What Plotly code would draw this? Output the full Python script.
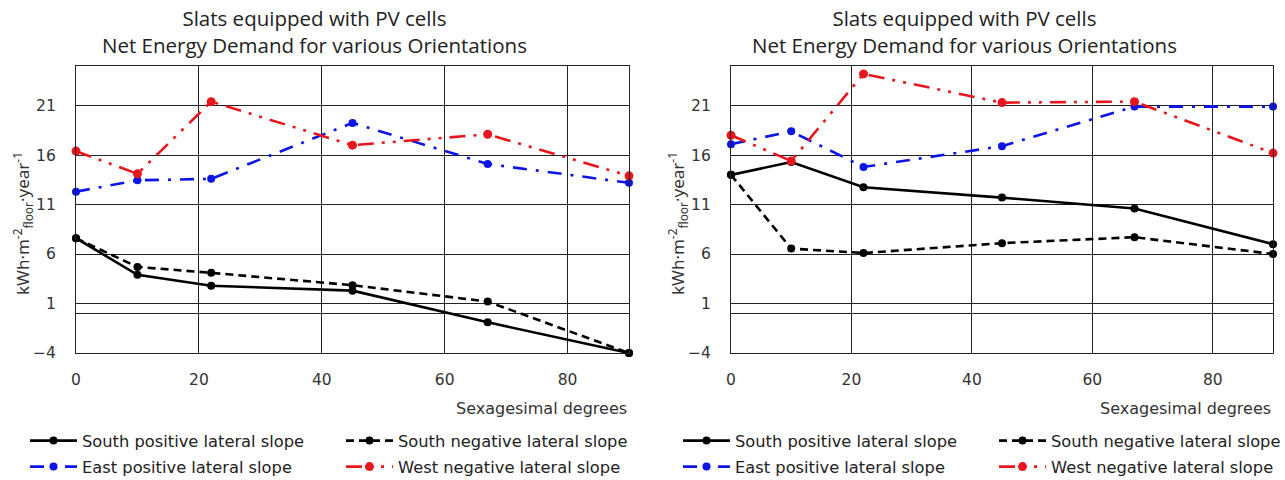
import plotly.graph_objects as go

# ---------------- data ----------------
angles = [0, 10, 22, 45, 67, 90]

# left chart
left_south_pos = [7.6, 3.9, 2.8, 2.3, -0.9, -4.0]
left_south_neg = [7.6, 4.7, 4.1, 2.85, 1.2, -4.0]
left_east_pos = [12.3, 13.45, 13.6, 19.25, 15.1, 13.2]
left_west_neg = [16.4, 14.1, 21.4, 17.0, 18.1, 13.9]

# right chart
right_south_pos = [14.0, 15.3, 12.75, 11.7, 10.6, 7.0]
right_south_neg = [14.0, 6.55, 6.1, 7.1, 7.7, 6.0]
right_east_pos = [17.1, 18.4, 14.8, 16.9, 20.9, 20.9]
right_west_neg = [18.0, 15.4, 24.2, 21.3, 21.4, 16.2]

series_names = ["South positive lateral slope", "South negative lateral slope",
                "East positive lateral slope", "West negative lateral slope"]
x_ticks = [0, 20, 40, 60, 80]
y_ticks = [-4, 1, 6, 11, 16, 21]
title_lines = ["Slats equipped with PV cells", "Net Energy Demand for various Orientations"]
x_label = "Sexagesimal degrees"
y_label = "kWh·m<sup>-2</sup><sub>floor</sub>·year<sup>-1</sup>"

# ---------------- styles ----------------
BLUE = "#0c14e6"
RED = "#e8161c"
styles = [
    dict(color="black", width=2.6, dash="solid"),
    dict(color="black", width=2.6, dash="8px,5px"),
    dict(color=BLUE, width=2.6, dash="14px,9px,3px,9px"),
    dict(color=RED, width=2.6, dash="16px,8px,3px,8px,3px,8px"),
]
marker_sizes = [8, 8, 8, 9]
FONT = "DejaVu Sans"

W, H = 1285, 480
left_px = (76, 629)
right_px = (731, 1273)
top_px, bot_px = 66, 353

fig = go.Figure()

charts = [
    (left_px, [left_south_pos, left_south_neg, left_east_pos, left_west_neg], "x", "y", ("legend", "legend2")),
    (right_px, [right_south_pos, right_south_neg, right_east_pos, right_west_neg], "x2", "y2", ("legend3", "legend4")),
]

for (px, data, xa, ya, legs) in charts:
    for i, (name, vals) in enumerate(zip(series_names, data)):
        fig.add_trace(go.Scatter(
            x=angles, y=vals, name=name, mode="lines+markers",
            line=styles[i], marker=dict(size=marker_sizes[i], color=styles[i]["color"]),
            xaxis=xa, yaxis=ya, cliponaxis=False,
            legend=legs[0] if i < 2 else legs[1],
        ))

axis_common_x = dict(range=[0, 90], tickvals=x_ticks, showgrid=True, gridcolor="#222", gridwidth=1,
                     showline=True, mirror=True, linecolor="#222", linewidth=1.3, zeroline=False,
                     ticks="", ticklabelstandoff=12, tickfont=dict(family=FONT, size=15.5, color="#333"),
                     fixedrange=True)
axis_common_y = dict(range=[-4, 25], tickvals=y_ticks, showgrid=True, gridcolor="#222", gridwidth=1,
                     showline=True, mirror=True, linecolor="#222", linewidth=1.3,
                     zeroline=True, zerolinecolor="#222", zerolinewidth=1,
                     ticks="", ticklabelstandoff=16, tickfont=dict(family=FONT, size=15.5, color="#333"),
                     fixedrange=True)

ydom = [1 - bot_px / H, 1 - top_px / H]
fig.update_layout(
    xaxis=dict(domain=[left_px[0] / W, left_px[1] / W], anchor="y", **axis_common_x),
    yaxis=dict(domain=ydom, anchor="x", **axis_common_y),
    xaxis2=dict(domain=[right_px[0] / W, right_px[1] / W], anchor="y2", **axis_common_x),
    yaxis2=dict(domain=ydom, anchor="x2", **axis_common_y),
)

leg_common = dict(orientation="h", entrywidth=254, entrywidthmode="pixels", xanchor="left",
                  yanchor="middle", font=dict(family=FONT, size=16.3, color="#222"),
                  bgcolor="rgba(0,0,0,0)", itemwidth=47, tracegroupgap=0)
fig.update_layout(
    legend=dict(x=25 / W, y=1 - 441 / H, **leg_common),
    legend2=dict(x=25 / W, y=1 - 467 / H, **leg_common),
    legend3=dict(x=678 / W, y=1 - 441 / H, **leg_common),
    legend4=dict(x=678 / W, y=1 - 467 / H, **leg_common),
)

annotations = []
for cx, px in [(314, left_px), (964, right_px)]:
    annotations.append(dict(text=title_lines[0] + "<br>" + title_lines[1], x=cx / W, y=1 - 32 / H,
                            xref="paper", yref="paper", showarrow=False, xanchor="center", yanchor="middle",
                            font=dict(family="Open Sans", size=20.5, color="#222")))
    annotations.append(dict(text=x_label, x=px[1] / W, y=1 - 408 / H, xref="paper", yref="paper",
                            showarrow=False, xanchor="right", yanchor="middle",
                            font=dict(family=FONT, size=16, color="#333")))
    annotations.append(dict(text=y_label, x=(px[0] - 54) / W, y=1 - 224 / H, xref="paper", yref="paper",
                            showarrow=False, xanchor="center", yanchor="middle", textangle=-90,
                            font=dict(family="Noto Sans", size=17, color="#333")))

fig.update_layout(
    width=W, height=H, margin=dict(l=0, r=0, t=0, b=0, autoexpand=False),
    paper_bgcolor="white", plot_bgcolor="white",
    annotations=annotations, showlegend=True,
)

fig.write_html("out.html", config={"displayModeBar": False},
               post_script="document.body.style.margin='0';document.body.style.overflow='hidden';")
